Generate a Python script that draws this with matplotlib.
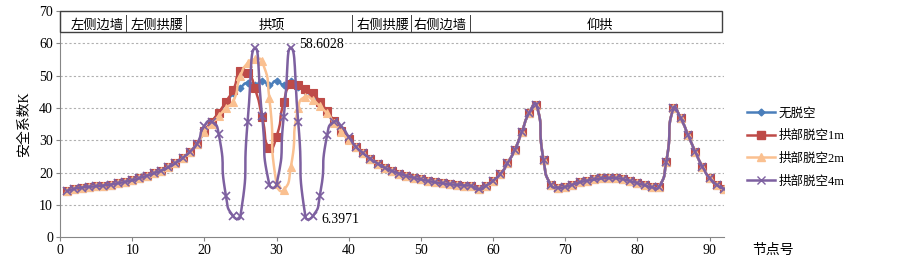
import numpy as np
import matplotlib
matplotlib.use("Agg")
import matplotlib.pyplot as plt
from matplotlib.patches import Rectangle

plt.rcParams["font.family"] = ["Liberation Serif", "Noto Sans CJK SC"]

# node numbers 1..92
nodes = list(range(1, 93))

# common part of all four curves (nodes 1-19 and 41-92)
left_part = [14.3, 15.0, 15.4, 15.6, 15.8, 16.0, 16.3, 16.7, 17.1, 17.6,
             18.3, 19.0, 19.8, 20.6, 21.6, 22.9, 24.5, 26.5, 29.0]
right_part = [28.0, 26.0, 24.3, 22.8, 21.5, 20.5, 19.7, 19.0, 18.4, 17.9,
              17.4, 17.0, 16.7, 16.4, 16.2, 16.0, 15.9, 14.8, 15.9, 17.5,
              19.5, 22.9, 27.0, 32.7, 38.4, 41.0, 23.9, 16.2, 15.4, 15.6,
              16.3, 17.0, 17.5, 17.9, 18.2, 18.3, 18.3, 18.0, 17.4, 16.8,
              16.1, 15.5, 15.6, 23.4, 39.9, 36.8, 31.7, 26.5, 21.9, 18.3,
              16.2, 14.9]

# crown region, nodes 20-40
crown_none = [32.5, 35.5, 38.5, 41.5, 44.5, 46.3, 47.8, 47.0, 48.4, 47.2,
              48.4, 47.2, 48.2, 46.5, 45.2, 43.5, 41.0, 38.5, 35.5, 32.8, 30.3]
crown_1m = [32.9, 35.8, 38.6, 42.0, 45.6, 51.3, 50.8, 46.1, 37.3, 27.5,
            31.1, 41.8, 47.3, 47.0, 46.0, 44.5, 42.0, 39.0, 36.0, 33.0, 30.5]
crown_2m = [32.5, 35.2, 37.5, 40.0, 42.0, 49.9, 53.9, 55.0, 54.4, 43.0,
            16.5, 14.6, 21.9, 40.0, 43.5, 42.5, 40.5, 38.3, 35.3, 32.5, 30.0]
crown_4m = [34.5, 35.8, 31.8, 12.8, 6.5, 6.5, 35.8, 58.5, 37.5, 16.3,
            16.3, 37.3, 58.6028, 35.8, 6.3971, 6.45, 12.8, 31.5, 35.8, 34.3, 31.1]

series_names = ["无脱空", "拱部脱空1m", "拱部脱空2m", "拱部脱空4m"]
series_vals = [left_part + c + right_part for c in (crown_none, crown_1m, crown_2m, crown_4m)]

sections = ["左侧边墙", "左侧拱腰", "拱项", "右侧拱腰", "右侧边墙", "仰拱"]
section_centers = [5.1, 13.4, 29.3, 44.7, 52.6, 74.8]
section_breaks = [9.2, 17.4, 40.4, 48.6, 56.8]

# pixels per data unit, used to make the smoothing behave like Excel's
PX_X, PX_Y = 7.22, 3.23


def smooth(x, y, steps=14, k=2 / 3):
    # Bezier smoothing with control points scaled by neighbouring chord lengths
    x = np.asarray(x, float)
    y = np.asarray(y, float)
    px = np.concatenate([[x[0]], x, [x[-1]]])
    py = np.concatenate([[y[0]], y, [y[-1]]])
    t = np.linspace(0, 1, steps, endpoint=False)
    xs, ys = [], []

    def dist(i, j):
        return np.hypot((px[j] - px[i]) * PX_X, (py[j] - py[i]) * PX_Y) + 1e-9

    for i in range(1, len(px) - 2):
        d01, d12, d23 = dist(i - 1, i), dist(i, i + 1), dist(i + 1, i + 2)
        f1 = k * d12 / (d01 + d12)
        f2 = k * d12 / (d12 + d23)
        x1, y1, x2, y2 = px[i], py[i], px[i + 1], py[i + 1]
        cx1 = x1 + (px[i + 1] - px[i - 1]) * f1
        cy1 = y1 + (py[i + 1] - py[i - 1]) * f1
        cx2 = x2 - (px[i + 2] - px[i]) * f2
        cy2 = y2 - (py[i + 2] - py[i]) * f2
        a, b, c, d = (1 - t) ** 3, 3 * (1 - t) ** 2 * t, 3 * (1 - t) * t ** 2, t ** 3
        xs.append(a * x1 + b * cx1 + c * cx2 + d * x2)
        ys.append(a * y1 + b * cy1 + c * cy2 + d * y2)
    xs.append([x[-1]])
    ys.append([y[-1]])
    return np.concatenate(xs), np.concatenate(ys)


colors = ["#4A7EBB", "#BE4B48", "#FAC090", "#7D60A0"]
markers = ["D", "s", "^", "x"]
msizes = [3.5, 5.8, 5.8, 6]

fig = plt.figure(figsize=(9.03, 2.65), dpi=100)
ax = fig.add_axes([60 / 903, 1 - 237.3 / 265, 664 / 903, 226.3 / 265])

handles = []
for name, vals, col, mk, ms in zip(series_names, series_vals, colors, markers, msizes):
    sx, sy = smooth(nodes, vals)
    ax.plot(sx, sy, color=col, lw=1.8, zorder=3)
    ax.plot(nodes, vals, ls="none", marker=mk, ms=ms, color=col,
            mec=col, mew=1.2 if mk == "x" else 0.8, zorder=3)
    h, = ax.plot([], [], color=col, lw=1.8, marker=mk, ms=ms, mew=1.0)
    handles.append(h)

ax.set_xlim(0, 92)
ax.set_ylim(0, 70)
ax.set_xticks(range(0, 91, 10))
ax.set_yticks(range(0, 71, 10))
ax.tick_params(labelsize=10, length=3, color="#868686", pad=2)
for s in ["top", "right"]:
    ax.spines[s].set_visible(False)
for s in ["left", "bottom"]:
    ax.spines[s].set_color("#868686")
for yv in range(10, 61, 10):
    ax.axhline(yv, color="#B0B0B0", lw=0.8, ls=(0, (2, 2)), zorder=1)

# section label box at top
ax.add_patch(Rectangle((0, 63.4), 91.7, 6.6, fill=False, ec="#404040", lw=1.0,
                       clip_on=False, zorder=4))
for name, xc in zip(sections, section_centers):
    ax.text(xc, 65.5, name, ha="center", va="center", fontsize=9.5, zorder=5)
for xb in section_breaks:
    ax.plot([xb, xb], [63.8, 68.8], color="#404040", lw=0.7, zorder=5)

ax.text(33.2, 59.5, "58.6028", fontsize=10, va="center")
ax.text(36.2, 5.6, "6.3971", fontsize=10, va="center")

ax.set_ylabel("安全系数K", fontsize=10, labelpad=6)
fig.text(752 / 903, 1 - 250 / 265, "节点号", fontsize=10, ha="left", va="center")

fig.legend(handles, series_names, loc="upper left",
           bbox_to_anchor=(741 / 903, 1 - 101 / 265), frameon=False,
           fontsize=9, handlelength=2.2, labelspacing=0.85, borderpad=0,
           handletextpad=0.3)

fig.savefig("out.png", dpi=100)
